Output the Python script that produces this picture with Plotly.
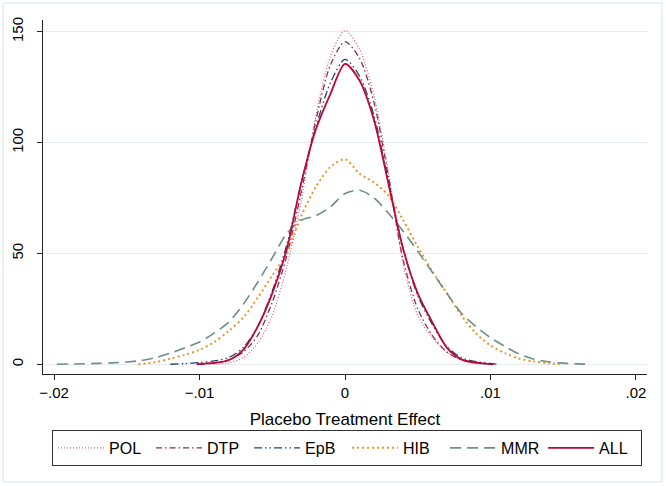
import plotly.graph_objects as go

# kernel density curves (x = placebo effect, y = density)
pol_x = [-0.0093, -0.008, -0.007, -0.006, -0.005, -0.004, -0.003, -0.002, -0.001, 0.0,
         0.001, 0.002, 0.003, 0.004, 0.005, 0.006, 0.007, 0.008, 0.009, 0.0095]
pol_y = [0, 0.6, 3, 9.5, 22, 44, 74, 112, 139, 150.5,
         142, 121, 86, 45, 22, 12, 5.5, 2, 0.4, 0]

dtp_x = [-0.0101, -0.009, -0.008, -0.007, -0.006, -0.005, -0.004, -0.003, -0.002, -0.001, 0.0,
         0.001, 0.002, 0.003, 0.004, 0.005, 0.006, 0.007, 0.008, 0.009, 0.0101]
dtp_y = [0, 0.6, 2, 5.5, 13, 28, 49, 78, 110, 135, 145.5,
         138, 118, 84, 47, 25, 13, 5.5, 2, 0.6, 0]

epb_x = [-0.012, -0.011, -0.010, -0.009, -0.008, -0.007, -0.006, -0.005, -0.004, -0.003, -0.002,
         -0.001, 0.0, 0.001, 0.002, 0.003, 0.004, 0.005, 0.006, 0.007, 0.008, 0.009, 0.010, 0.0105]
epb_y = [0, 0.3, 0.8, 1.5, 3, 7.5, 17, 33, 54, 82, 107,
         127, 137.5, 130, 112, 82, 52, 31, 18, 8, 3, 1.2, 0.4, 0]

hib_x = [-0.0142, -0.013, -0.012, -0.011, -0.010, -0.009, -0.008, -0.007, -0.006, -0.005, -0.004,
         -0.003, -0.002, -0.001, 0.0, 0.001, 0.002, 0.003, 0.004, 0.005, 0.006, 0.007, 0.008,
         0.009, 0.010, 0.011, 0.012, 0.013, 0.014, 0.015]
hib_y = [0, 1, 2.5, 4.3, 6.5, 10, 15, 21, 30, 40, 50,
         67, 80, 89, 92.5, 86, 82, 76, 65, 53, 42, 32, 22,
         14, 8.5, 5, 2.5, 1.2, 0.5, 0]

mmr_x = [-0.0198, -0.018, -0.017, -0.016, -0.015, -0.014, -0.013, -0.012, -0.011, -0.010, -0.009,
         -0.008, -0.007, -0.006, -0.005, -0.004, -0.003, -0.002, -0.001, 0.0, 0.001, 0.002, 0.003,
         0.004, 0.005, 0.006, 0.007, 0.008, 0.009, 0.010, 0.011, 0.012, 0.013, 0.014, 0.015,
         0.016, 0.0168]
mmr_y = [0, 0.2, 0.4, 0.6, 1, 1.7, 3, 5, 7.5, 10, 14,
         19, 27, 37, 48, 59, 65, 67, 71, 77, 78.5, 75, 68,
         60, 51, 41.5, 32, 23, 17, 12, 8, 4.5, 2.3, 1.1, 0.5,
         0.15, 0]

all_x = [-0.0102, -0.009, -0.008, -0.007, -0.006, -0.005, -0.004, -0.003, -0.002, -0.001, 0.0,
         0.001, 0.002, 0.003, 0.004, 0.005, 0.006, 0.007, 0.008, 0.009, 0.0102]
all_y = [0, 0.6, 1.8, 6.5, 17, 32, 52, 82, 106, 122, 135.5,
         128, 110, 81, 52, 32, 19, 7.5, 2.2, 0.7, 0]

x_ticks = [-0.02, -0.01, 0, 0.01, 0.02]
x_labels = ["\u2212.02", "\u2212.01", "0", ".01", ".02"]
y_ticks = [0, 50, 100, 150]

series = [
    ("POL", pol_x, pol_y, "#d65a7c", "1px,2px", 1.2),
    ("DTP", dtp_x, dtp_y, "#8a2f4c", "6px,3px,1.5px,3px", 1.3),
    ("EpB", epb_x, epb_y, "#1a476f", "8px,3px,1.5px,3px,1.5px,3px", 1.3),
    ("HIB", hib_x, hib_y, "#e8952b", "2px,3px", 2),
    ("MMR", mmr_x, mmr_y, "#6e8e88", "11px,6px", 1.6),
    ("ALL", all_x, all_y, "#c10534", "solid", 1.8),
]

fig = go.Figure()
for name, xs, ys, color, dash, w in series:
    fig.add_trace(go.Scatter(
        x=xs, y=ys, name=name, mode="lines",
        line=dict(color=color, dash=dash, width=w, shape="spline", smoothing=0.8),
    ))

fig.update_layout(
    width=666, height=486,
    margin=dict(l=43, r=19, t=20, b=112, autoexpand=False),
    paper_bgcolor="white", plot_bgcolor="white",
    font=dict(family="Liberation Sans, Arial, sans-serif", size=15, color="black"),
    showlegend=True,
    legend=dict(
        orientation="h", x=0.015, xanchor="left", y=-0.158, yanchor="top",
        bordercolor="#333333", borderwidth=1,
        itemwidth=46, entrywidth=37, font=dict(size=16),
    ),
    xaxis=dict(
        range=[-0.02076, 0.02076], tickvals=x_ticks, ticktext=x_labels,
        showgrid=False, zeroline=False, showline=True, linecolor="#222222", linewidth=1,
        ticks="outside", ticklen=5, tickcolor="#222222", automargin=False,
        title=dict(text="Placebo Treatment Effect", font=dict(size=17), standoff=13),
    ),
    yaxis=dict(
        range=[-4.4, 155.3], tickvals=y_ticks, tickangle=-90, ticklabelstandoff=8,
        showgrid=True, gridcolor="#e4ecee", gridwidth=1.2, zeroline=False,
        showline=True, linecolor="#222222", linewidth=1, automargin=False,
        ticks="outside", ticklen=5, tickcolor="#222222",
    ),
    shapes=[dict(type="rect", xref="paper", yref="paper",
                 x0=-0.0662, x1=1.0248, y0=-0.305, y1=1.048,
                 line=dict(color="#e6eef0", width=1.5), layer="below")],
)

# drop the default page margin so the figure sits at the window corner
fig.write_html("out.html", config={"displayModeBar": False},
               post_script="document.body.style.margin='0';")
